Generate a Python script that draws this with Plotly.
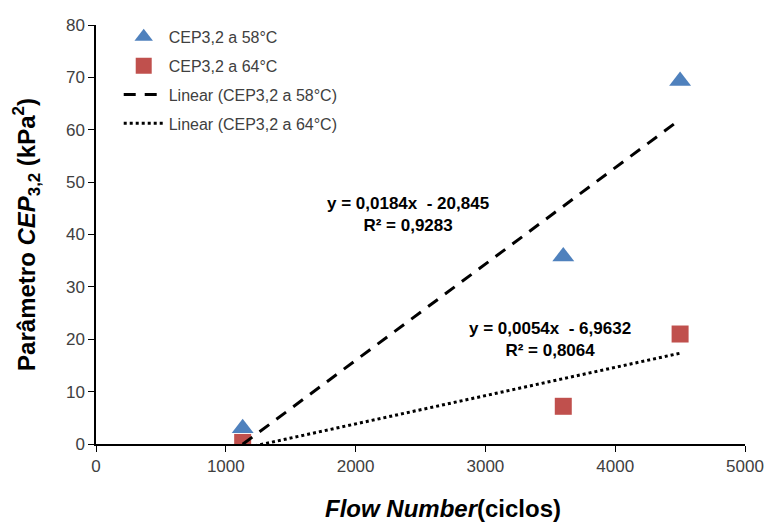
import plotly.graph_objects as go

# Flow Number (cycles) and CEP3,2 values at the two test temperatures
flow_58 = [1130, 3600, 4500]
cep_58 = [3.0, 35.8, 69.3]
flow_64 = [1130, 3600, 4500]
cep_64 = [0.3, 7.2, 21.0]

# Linear trendline coefficients (slope, intercept, R²)
fit_58 = (0.0184, -20.845, 0.9283)
fit_64 = (0.0054, -6.9632, 0.8064)

x_ticks = [0, 1000, 2000, 3000, 4000, 5000]
y_ticks = [0, 10, 20, 30, 40, 50, 60, 70, 80]

BLUE = "#4F81BD"
RED = "#C0504D"
FONT = "Liberation Sans, Arial, sans-serif"
TICK_COLOR = "#404040"


def fit_line(xs, coef):
    x0, x1 = min(xs), max(xs)
    m, b, _ = coef
    return [x0, x1], [m * x0 + b, m * x1 + b]


def fmt(v, nd):
    return f"{v:.{nd}f}".replace(".", ",")


fig = go.Figure()

fig.add_trace(go.Scatter(
    x=flow_58, y=cep_58, mode="markers", name="CEP3,2 a 58°C",
    marker=dict(symbol="triangle-up", size=19, color=BLUE),
    legendgroup="a",
))
fig.add_trace(go.Scatter(
    x=flow_64, y=cep_64, mode="markers", name="CEP3,2 a 64°C",
    marker=dict(symbol="square", size=17, color=RED),
    legendgroup="b",
))

lx, ly = fit_line(flow_58, fit_58)
fig.add_trace(go.Scatter(
    x=lx, y=ly, mode="lines", name="Linear (CEP3,2 a 58°C)",
    line=dict(color="black", width=3, dash="12px,9px"),
    legendgroup="c",
))
lx, ly = fit_line(flow_64, fit_64)
fig.add_trace(go.Scatter(
    x=lx, y=ly, mode="lines", name="Linear (CEP3,2 a 64°C)",
    line=dict(color="black", width=3, dash="dot"),
    legendgroup="d",
))

# Trendline equations
for coef, (ax, ay) in ((fit_58, (2400, 43.9)), (fit_64, (3500, 19.9))):
    m, b, r2 = coef
    sign = "-" if b < 0 else "+"
    ndec = len(repr(abs(b)).split(".")[1])
    fig.add_annotation(
        x=ax, y=ay, xref="x", yref="y", showarrow=False,
        text=f"<b>y = {fmt(m, 4)}x  {sign} {fmt(abs(b), ndec)}<br>R² = {fmt(r2, 4)}</b>",
        font=dict(family=FONT, size=17, color="black"),
        align="center",
    )

# X axis title, placed slightly right of the axis centre
fig.add_annotation(
    x=(443 - 96) / (745 - 96), y=-0.155, xref="paper", yref="paper",
    showarrow=False,
    text="<b><i>Flow Number</i>(ciclos)</b>",
    font=dict(family=FONT, size=24, color="black"),
    xanchor="center", yanchor="middle",
)

fig.update_layout(
    width=764, height=525,
    margin=dict(l=96, r=19, t=25, b=81, autoexpand=False),
    paper_bgcolor="white", plot_bgcolor="white",
    font=dict(family=FONT, size=13, color=TICK_COLOR),
    showlegend=True,
    legend=dict(
        x=0.035, y=1.012, xanchor="left", yanchor="top",
        bgcolor="rgba(0,0,0,0)", tracegroupgap=5,
        traceorder="grouped", itemwidth=40,
        font=dict(family=FONT, size=16, color=TICK_COLOR),
    ),
    xaxis=dict(
        range=[0, 5000], tickvals=x_ticks, showgrid=False, zeroline=False,
        showline=True, linecolor="black", linewidth=1.5,
        ticks="outside", ticklen=6, tickcolor="black",
        tickfont=dict(family=FONT, size=17, color=TICK_COLOR),
    ),
    yaxis=dict(
        range=[0, 80], tickvals=y_ticks, showgrid=False, zeroline=False,
        showline=True, linecolor="black", linewidth=1.5,
        ticks="outside", ticklen=6, tickcolor="black",
        tickfont=dict(family=FONT, size=17, color=TICK_COLOR),
        title=dict(
            text="<b>Parâmetro <i>CEP</i><sub>3,2</sub> (kPa<sup>2</sup>)</b>",
            font=dict(family=FONT, size=24, color="black"),
            standoff=24,
        ),
    ),
)

fig.write_html("out.html")
